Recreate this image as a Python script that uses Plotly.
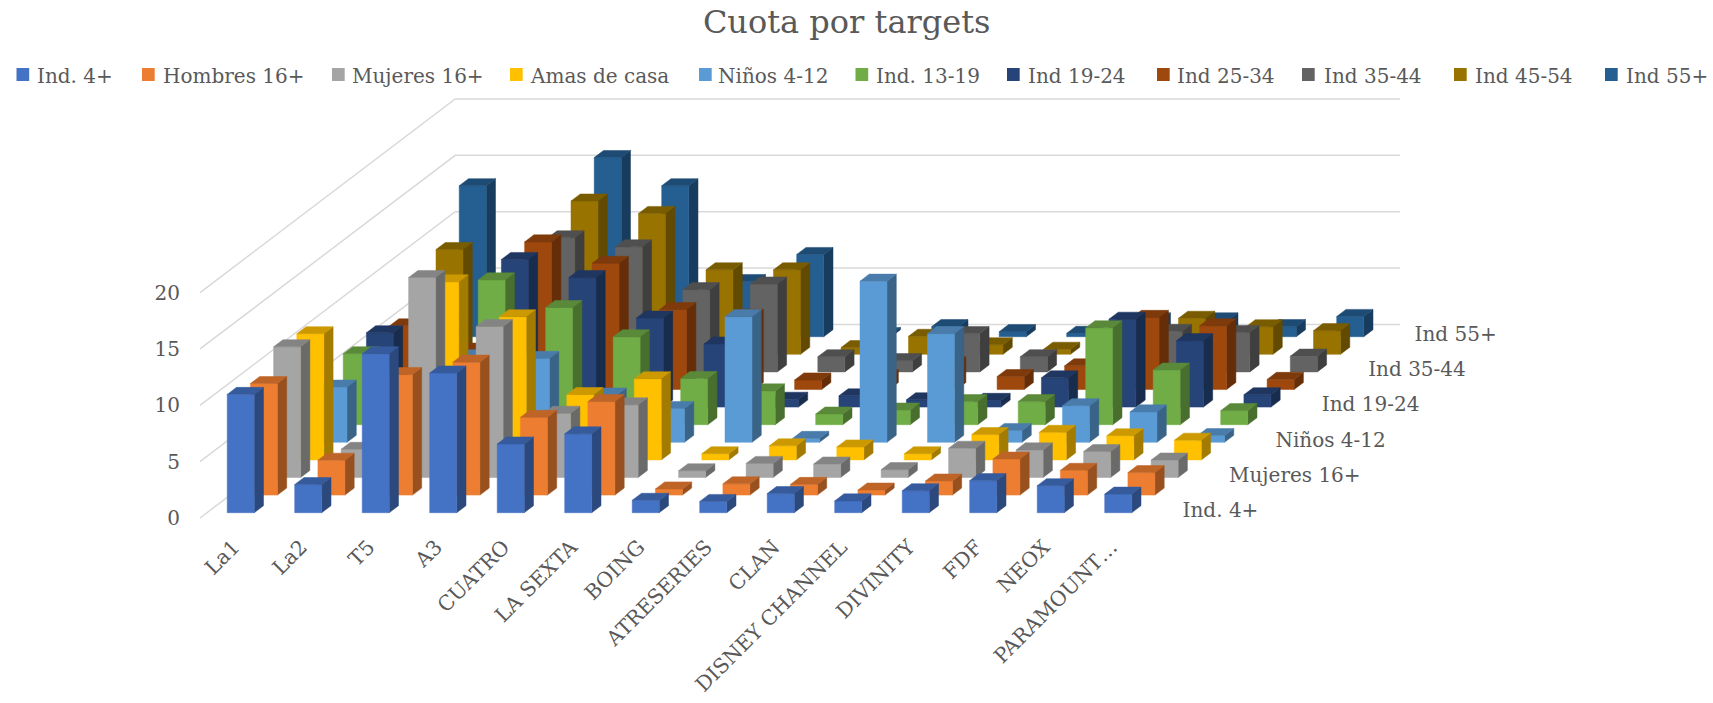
import plotly.graph_objects as go

channels = ["La1", "La2", "T5", "A3", "CUATRO", "LA SEXTA", "BOING", "ATRESERIES", "CLAN",
            "DISNEY CHANNEL", "DIVINITY", "FDF", "NEOX", "PARAMOUNT…"]
targets = ["Ind. 4+", "Hombres 16+", "Mujeres 16+", "Amas de casa", "Niños 4-12", "Ind. 13-19",
           "Ind 19-24", "Ind 25-34", "Ind 35-44", "Ind 45-54", "Ind 55+"]

ind_4 = [10.5, 2.5, 14.1, 12.4, 6.1, 7.0, 1.1, 1.0, 1.7, 1.05, 1.95, 2.85, 2.4, 1.65]
hombres_16 = [9.9, 3.1, 10.7, 11.8, 6.9, 8.3, 0.55, 1.0, 0.95, 0.45, 1.25, 3.2, 2.2, 2.0]
mujeres_16 = [11.6, 2.5, 17.75, 13.4, 5.7, 6.45, 0.6, 1.25, 1.2, 0.7, 2.6, 2.45, 2.3, 1.55]
amas_casa = [11.2, 2.4, 15.8, 12.7, 5.8, 7.2, 0.55, 1.25, 1.15, 0.55, 2.25, 2.45, 2.15, 1.75]
ninos_4_12 = [4.9, 3.2, 7.6, 7.45, 4.2, 3.0, 11.15, 0.35, 14.3, 9.65, 1.05, 3.25, 2.7, 0.6]
ind_13_19 = [6.3, 2.6, 12.85, 10.4, 7.8, 4.1, 3.0, 0.95, 1.3, 2.05, 2.05, 8.6, 4.85, 1.25]
ind_19_24 = [6.6, 3.2, 13.1, 11.5, 7.9, 5.6, 0.7, 1.0, 0.65, 0.6, 2.6, 7.8, 5.9, 1.1]
ind_25_34 = [5.65, 3.5, 13.1, 11.2, 7.1, 6.5, 0.85, 1.15, 2.3, 1.15, 2.1, 6.4, 5.65, 0.9]
ind_35_44 = [5.5, 3.6, 11.9, 11.1, 7.3, 7.8, 1.35, 1.0, 3.4, 1.35, 1.5, 3.6, 3.5, 1.4]
ind_45_54 = [9.3, 3.5, 13.6, 12.5, 7.5, 7.5, 0.6, 1.6, 0.85, 0.45, 2.75, 3.2, 2.45, 2.1]
ind_55 = [13.4, 3.5, 15.9, 13.4, 4.9, 7.3, 0.2, 0.9, 0.45, 0.3, 1.5, 1.5, 0.9, 1.8]
series_values = [ind_4, hombres_16, mujeres_16, amas_casa, ninos_4_12, ind_13_19,
                 ind_19_24, ind_25_34, ind_35_44, ind_45_54, ind_55]
value_ticks = [0, 5, 10, 15, 20]
depth_labelled = [0, 2, 4, 6, 8, 10]

front_colors = ["#4472C4", "#ED7D31", "#A5A5A5", "#FFC000", "#5B9BD5", "#70AD47",
                "#264478", "#9E480E", "#636363", "#997300", "#255E91"]

# Oblique projection: page scale of the two screen axes
W, H = 1713, 703
PX_PER_CAT, PX_PER_VAL = 67.5, 11.27
DEPTH_DX, DEPTH_DY = 23.2, 17.6
ORIGIN_X, ORIGIN_Y = 200.0, 518.0
BAR_W, BAR_D = 0.4, 0.4
FONT = "DejaVu Serif"
TEXT = "#595959"


def project(c, s, v):
    return c + s * DEPTH_DX / PX_PER_CAT, v + s * DEPTH_DY / PX_PER_VAL


def shade(hex_color, k):
    r, g, b = (int(hex_color[i:i + 2], 16) for i in (1, 3, 5))
    return f"rgb({round(r * k)},{round(g * k)},{round(b * k)})"


def polys_to_xy(polys):
    xs, ys = [], []
    for poly in polys:
        for c, s, v in poly + [poly[0]]:
            x, y = project(c, s, v)
            xs.append(x)
            ys.append(y)
        xs.append(None)
        ys.append(None)
    return xs, ys


fig = go.Figure()

# Gridlines on the back and left walls
n_c, n_s = len(channels), len(targets)
gx, gy = [], []
for t in value_ticks:
    for c, s in [(0, 0), (0, n_s), (n_c, n_s)]:
        x, y = project(c, s, t)
        gx.append(x)
        gy.append(y)
    gx.append(None)
    gy.append(None)
fig.add_trace(go.Scatter(x=gx, y=gy, mode="lines", line=dict(color="#D9D9D9", width=1.5),
                         hoverinfo="skip", showlegend=False))

# Bars, back series first so nearer ones cover them
for j in reversed(range(n_s)):
    fronts, sides, tops = [], [], []
    s0 = j + (1 - BAR_D) / 2
    s1 = s0 + BAR_D
    for i, v in enumerate(series_values[j]):
        c0 = i + (1 - BAR_W) / 2
        c1 = c0 + BAR_W
        fronts.append([(c0, s0, 0), (c1, s0, 0), (c1, s0, v), (c0, s0, v)])
        sides.append([(c1, s0, 0), (c1, s1, 0), (c1, s1, v), (c1, s0, v)])
        tops.append([(c0, s0, v), (c1, s0, v), (c1, s1, v), (c0, s1, v)])
    for polys, k, nm in [(sides, 0.64, " lado"), (fronts, 1.0, ""), (tops, 0.8, " tapa")]:
        xs, ys = polys_to_xy(polys)
        col = shade(front_colors[j], k)
        fig.add_trace(go.Scatter(x=xs, y=ys, mode="lines", fill="toself", fillcolor=col,
                                 line=dict(color=col, width=0.5), name=targets[j] + nm,
                                 hoverinfo="skip", showlegend=False))

# Depth axis labels
lx, ly, lt = [], [], []
for j in depth_labelled:
    x, y = project(n_c + 0.385, j + 0.5, -0.25)
    lx.append(x)
    ly.append(y)
    lt.append(targets[j])
fig.add_trace(go.Scatter(x=lx, y=ly, text=lt, mode="text", textposition="middle right",
                         textfont=dict(family=FONT, size=20, color=TEXT),
                         hoverinfo="skip", showlegend=False))

# Legend drawn across the top
legend_swatch_px = [16.5, 142, 332, 510, 699, 855.5, 1007, 1157, 1302, 1454, 1605]
legend_text_px = [34.5, 161, 350, 528, 716, 873.7, 1026, 1175, 1322, 1472.5, 1624]
LEG_Y = 74.5
shapes, annos = [], []
for name, col, sx, tx in zip(targets, front_colors, legend_swatch_px, legend_text_px):
    shapes.append(dict(type="rect", xref="paper", yref="paper", x0=sx / W, x1=(sx + 12.7) / W,
                       y0=1 - (LEG_Y + 6.5) / H, y1=1 - (LEG_Y - 6.5) / H,
                       fillcolor=col, line=dict(width=0), layer="above"))
    annos.append(dict(text=name, xref="paper", yref="paper", x=tx / W, y=1 - (LEG_Y + 2) / H,
                      xanchor="left", yanchor="middle", showarrow=False,
                      font=dict(family=FONT, size=20, color=TEXT)))

xr = [(0 - ORIGIN_X) / PX_PER_CAT, (W - ORIGIN_X) / PX_PER_CAT]
yr = [(ORIGIN_Y - H) / PX_PER_VAL, ORIGIN_Y / PX_PER_VAL]

fig.update_layout(
    width=W, height=H, margin=dict(l=0, r=0, t=0, b=0),
    paper_bgcolor="white", plot_bgcolor="rgba(0,0,0,0)", showlegend=False,
    title=dict(text="Cuota por targets", x=846.7 / W, xanchor="center", y=1 - 22 / H, yanchor="middle",
               xref="paper", yref="paper", font=dict(family=FONT, size=32, color=TEXT)),
    xaxis=dict(range=xr, fixedrange=True, showgrid=False, zeroline=False, showline=False,
               tickmode="array", tickvals=[i + 0.5 for i in range(n_c)], ticktext=channels,
               tickangle=-45, ticks="", anchor="free", position=1 - 530 / H,
               tickfont=dict(family=FONT, size=20.5, color=TEXT)),
    yaxis=dict(range=yr, fixedrange=True, showgrid=False, zeroline=False, showline=False,
               tickmode="array", tickvals=value_ticks, ticks="", anchor="free", position=180 / W,
               tickfont=dict(family=FONT, size=20, color=TEXT)),
    shapes=shapes, annotations=annos,
)
fig.write_html("out.html", post_script="document.body.style.margin='0';",
               config={"displayModeBar": False})
